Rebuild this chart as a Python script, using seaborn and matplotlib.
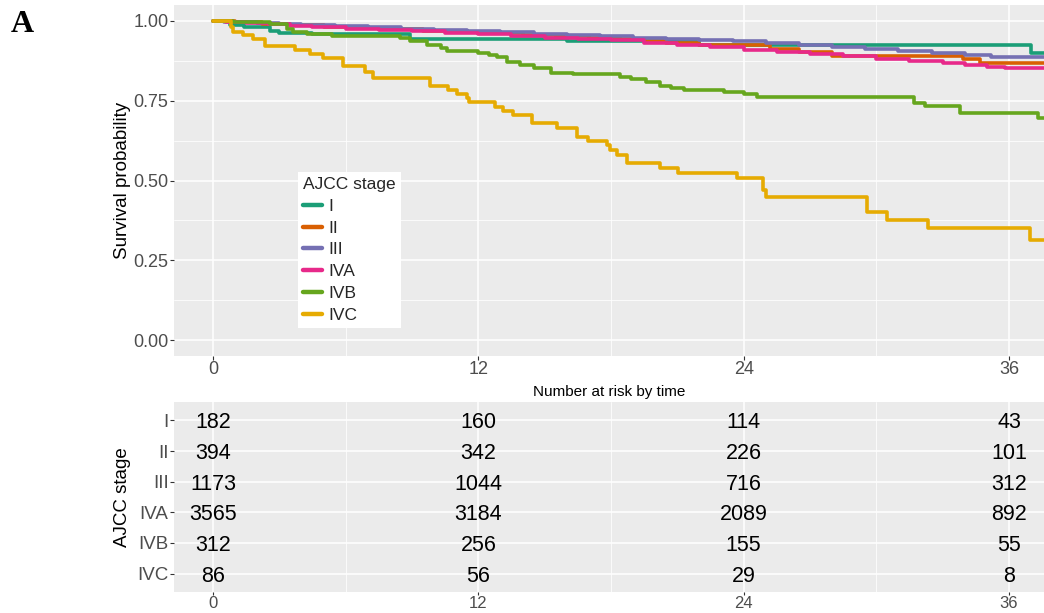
import numpy as np
import pandas as pd
import matplotlib
matplotlib.use("Agg")
import matplotlib.pyplot as plt
from matplotlib.lines import Line2D
from matplotlib.ticker import FixedLocator
import seaborn as sns

# ---------------- data ----------------
stages = ["I", "II", "III", "IVA", "IVB", "IVC"]
colors = ["#1B9E77", "#D95F02", "#7570B3", "#E7298A", "#66A61E", "#E6AB02"]

t_I = [0, 0.77, 1.4, 2.6, 3.0, 4.5, 8.9, 16.0, 22.0, 37.0, 38.0]
s_I = [1.0, 0.987, 0.981, 0.970, 0.962, 0.959, 0.945, 0.937, 0.925, 0.900, 0.900]

t_II = [0, 1.0, 2.2, 3.5, 5.0, 6.5, 8.0, 9.5, 11.0, 12.5, 14.0, 15.5, 17.0, 18.4,
        19.5, 20.5, 22.0, 25.2, 26.5, 28.0, 33.9, 34.7, 38.0]
s_II = [1.0, 0.996, 0.991, 0.987, 0.982, 0.978, 0.974, 0.970, 0.966, 0.961, 0.957,
        0.952, 0.948, 0.944, 0.937, 0.930, 0.925, 0.911, 0.902, 0.890, 0.880, 0.869, 0.869]

t_III = [0, 0.5, 1.2, 2.0, 3.0, 4.0, 5.5, 7.0, 8.5, 10.0, 11.5, 13.0, 14.5, 16.0, 17.5,
         19.0, 20.5, 22.0, 23.5, 25.0, 26.5, 28.0, 29.5, 31.0, 32.5, 34.0, 35.2, 38.0]
s_III = [1.0, 0.998, 0.996, 0.994, 0.991, 0.988, 0.984, 0.980, 0.976, 0.972, 0.968,
         0.964, 0.960, 0.956, 0.952, 0.948, 0.942, 0.939, 0.936, 0.931, 0.925, 0.919,
         0.913, 0.907, 0.900, 0.894, 0.887, 0.887]

t_IVA = [0, 0.6, 1.5, 2.5, 3.5, 4.5, 6.0, 7.5, 9.0, 10.5, 12.0, 13.5, 15.0, 16.5, 18.0,
         19.5, 21.0, 22.5, 24.0, 25.5, 27.0, 28.5, 30.0, 31.5, 33.0, 34.0, 35.0, 35.8, 38.0]
s_IVA = [1.0, 0.997, 0.993, 0.989, 0.985, 0.981, 0.976, 0.972, 0.967, 0.963, 0.958,
         0.953, 0.948, 0.944, 0.939, 0.932, 0.925, 0.918, 0.910, 0.903, 0.897, 0.890,
         0.882, 0.875, 0.867, 0.861, 0.856, 0.853, 0.853]

t_IVB = [0, 0.9, 2.6, 3.35, 3.6, 4.25, 5.4, 8.46, 8.9, 9.7, 10.3, 10.6, 12.0, 12.5,
         12.85, 13.3, 13.9, 14.5, 15.3, 16.3, 18.4, 18.9, 19.6, 20.2, 20.7, 21.3, 23.1,
         24.0, 24.6, 31.7, 32.2, 33.8, 37.3, 38.0]
s_IVB = [1.0, 0.997, 0.990, 0.974, 0.966, 0.958, 0.953, 0.946, 0.936, 0.924, 0.914,
         0.906, 0.900, 0.893, 0.887, 0.871, 0.862, 0.853, 0.837, 0.834, 0.824, 0.818,
         0.809, 0.796, 0.790, 0.784, 0.777, 0.771, 0.762, 0.743, 0.734, 0.712, 0.696, 0.696]

t_IVC = [0, 0.81, 0.90, 1.36, 1.81, 2.35, 3.71, 4.39, 4.98, 5.88, 6.88, 7.24, 9.82,
         10.63, 11.04, 11.49, 11.58, 12.76, 13.12, 13.57, 14.43, 15.57, 16.47, 16.97,
         17.83, 17.96, 18.28, 18.73, 20.23, 21.04, 23.71, 24.89, 25.02, 29.59, 30.50,
         32.35, 36.97, 38.0]
s_IVC = [1.0, 0.981, 0.966, 0.956, 0.944, 0.922, 0.909, 0.897, 0.884, 0.859, 0.840,
         0.821, 0.796, 0.784, 0.771, 0.759, 0.746, 0.730, 0.718, 0.705, 0.680, 0.665,
         0.636, 0.624, 0.611, 0.596, 0.580, 0.555, 0.539, 0.524, 0.508, 0.470, 0.448,
         0.401, 0.376, 0.351, 0.313, 0.313]

risk_times = [0, 12, 24, 36]
risk_I = [182, 160, 114, 43]
risk_II = [394, 342, 226, 101]
risk_III = [1173, 1044, 716, 312]
risk_IVA = [3565, 3184, 2089, 892]
risk_IVB = [312, 256, 155, 55]
risk_IVC = [86, 56, 29, 8]

curves = {"I": (t_I, s_I), "II": (t_II, s_II), "III": (t_III, s_III),
          "IVA": (t_IVA, s_IVA), "IVB": (t_IVB, s_IVB), "IVC": (t_IVC, s_IVC)}
risks = {"I": risk_I, "II": risk_II, "III": risk_III, "IVA": risk_IVA,
         "IVB": risk_IVB, "IVC": risk_IVC}

df = pd.concat([pd.DataFrame({"time": t, "surv": s, "stage": k})
                for k, (t, s) in curves.items()], ignore_index=True)
df["stage"] = pd.Categorical(df["stage"], categories=stages, ordered=True)

# ---------------- style ----------------
sns.set_theme(style="darkgrid")
plt.rcParams["font.family"] = ["Liberation Sans", "DejaVu Sans"]
BG = "#EBEBEB"
TICKC = "#4D4D4D"

W, H = 1044, 613
fig = plt.figure(figsize=(W / 100, H / 100), dpi=100)
fig.patch.set_facecolor("white")

left = 174 / W
width = (1044 - 174) / W
ax = fig.add_axes([left, 1 - 356 / H, width, (356 - 5) / H])
ax2 = fig.add_axes([left, 1 - 592 / H, width, (592 - 402) / H])

xlim = ((174 - 213) / 22.11, (1044 - 213) / 22.11)


def style_axes(a):
    a.set_facecolor(BG)
    for sp in a.spines.values():
        sp.set_visible(False)
    a.set_axisbelow(True)
    a.tick_params(which="major", bottom=True, left=True, length=2.75, width=0.8,
                  color="#333333", labelsize=13, labelcolor=TICKC, pad=1.2)
    a.tick_params(which="minor", length=0)
    a.grid(which="major", color="white", lw=1.1)
    a.grid(which="minor", color="white", lw=0.55)


# ---------------- survival curves ----------------
sns.lineplot(data=df, x="time", y="surv", hue="stage", palette=colors,
             hue_order=stages, estimator=None, sort=False, drawstyle="steps-post",
             lw=2.6, ax=ax, legend=False)
style_axes(ax)
ax.set_xlim(*xlim)
ax.set_ylim(-0.05, 1.05)
ax.set_xticks(risk_times)
ax.set_xticklabels([str(v) for v in risk_times])
ax.set_yticks([0, 0.25, 0.5, 0.75, 1.0])
ax.set_yticklabels(["0.00", "0.25", "0.50", "0.75", "1.00"])
ax.xaxis.set_minor_locator(FixedLocator([6, 18, 30]))
ax.yaxis.set_minor_locator(FixedLocator([0.125, 0.375, 0.625, 0.875]))
ax.set_xlabel("")
ax.set_ylabel("Survival probability", fontsize=13.5, color="black")
ax.yaxis.set_label_coords((131 - 174) / 870, 0.5)

handles = [Line2D([0], [0], color=c, lw=3.2) for c in colors]
leg = ax.legend(handles, stages, title="AJCC stage", loc="upper left",
                bbox_to_anchor=((298 - 174) / 870, (356 - 172) / 351),
                fontsize=12.5, title_fontsize=12.5, frameon=True, fancybox=False,
                facecolor="white", framealpha=1, edgecolor="white",
                handlelength=1.1, handletextpad=0.35,
                labelspacing=0.38, borderpad=0.3, borderaxespad=0)
leg._legend_box.align = "left"
leg.get_frame().set_linewidth(0)

# ---------------- risk table ----------------
rows = {s: i + 1 for i, s in enumerate(stages)}
style_axes(ax2)
ax2.set_xlim(*xlim)
ax2.set_ylim(len(stages) + 0.6, 0.4)
for s in stages:
    for t, n in zip(risk_times, risks[s]):
        ax2.text(t, rows[s], str(n), ha="center", va="center_baseline",
                 fontsize=15.5, color="black")
ax2.set_xticks(risk_times)
ax2.set_xticklabels([str(v) for v in risk_times])
ax2.xaxis.set_minor_locator(FixedLocator([6, 18, 30]))
ax2.tick_params(axis="x", labelsize=12, pad=0.8, length=2.2)
ax2.set_yticks([rows[s] for s in stages])
ax2.set_yticklabels(stages)
ax2.tick_params(axis="y", labelsize=13.5)
ax2.set_ylabel("AJCC stage", fontsize=13.5, color="black")
ax2.yaxis.set_label_coords((131 - 174) / 870, 0.5)

fig.text(609 / W, 1 - 392 / H, "Number at risk by time", ha="center", va="center",
         fontsize=11, color="black")
fig.text(22 / W, 1 - 25 / H, "A", ha="center", va="center", fontsize=23,
         fontweight="bold", family="Liberation Serif", color="black")

fig.savefig("out.png", dpi=100, facecolor="white")
